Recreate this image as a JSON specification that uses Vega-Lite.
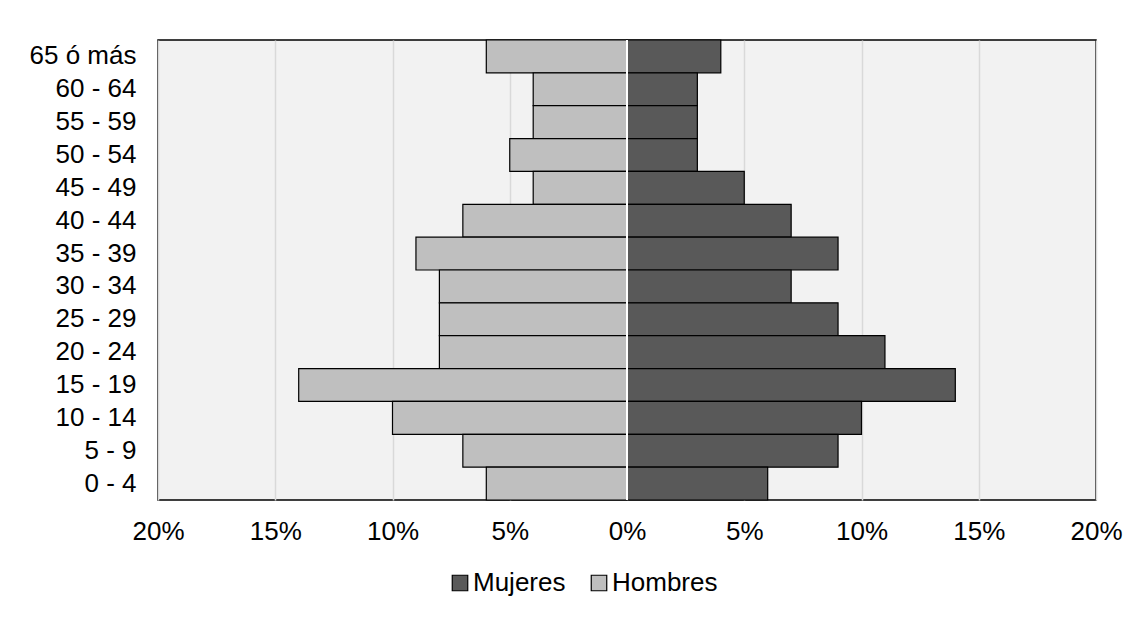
{
  "$schema": "https://vega.github.io/schema/vega-lite/v6.json",
  "width": 938,
  "height": 460,
  "autosize": {"type": "none"},
  "padding": {"left": 158, "top": 40, "right": 42, "bottom": 117},
  "background": "white",
  "config": {
    "font": "Liberation Sans",
    "view": {"fill": "#f2f2f2", "stroke": "#000000", "strokeWidth": 1.5}
  },
  "data": {
    "values": [
      {"edad": "65 ó más", "sexo": "Hombres", "valor": -6},
      {"edad": "60 - 64", "sexo": "Hombres", "valor": -4},
      {"edad": "55 - 59", "sexo": "Hombres", "valor": -4},
      {"edad": "50 - 54", "sexo": "Hombres", "valor": -5},
      {"edad": "45 - 49", "sexo": "Hombres", "valor": -4},
      {"edad": "40 - 44", "sexo": "Hombres", "valor": -7},
      {"edad": "35 - 39", "sexo": "Hombres", "valor": -9},
      {"edad": "30 - 34", "sexo": "Hombres", "valor": -8},
      {"edad": "25 - 29", "sexo": "Hombres", "valor": -8},
      {"edad": "20 - 24", "sexo": "Hombres", "valor": -8},
      {"edad": "15 - 19", "sexo": "Hombres", "valor": -14},
      {"edad": "10 - 14", "sexo": "Hombres", "valor": -10},
      {"edad": "5 - 9", "sexo": "Hombres", "valor": -7},
      {"edad": "0 - 4", "sexo": "Hombres", "valor": -6},
      {"edad": "65 ó más", "sexo": "Mujeres", "valor": 4},
      {"edad": "60 - 64", "sexo": "Mujeres", "valor": 3},
      {"edad": "55 - 59", "sexo": "Mujeres", "valor": 3},
      {"edad": "50 - 54", "sexo": "Mujeres", "valor": 3},
      {"edad": "45 - 49", "sexo": "Mujeres", "valor": 5},
      {"edad": "40 - 44", "sexo": "Mujeres", "valor": 7},
      {"edad": "35 - 39", "sexo": "Mujeres", "valor": 9},
      {"edad": "30 - 34", "sexo": "Mujeres", "valor": 7},
      {"edad": "25 - 29", "sexo": "Mujeres", "valor": 9},
      {"edad": "20 - 24", "sexo": "Mujeres", "valor": 11},
      {"edad": "15 - 19", "sexo": "Mujeres", "valor": 14},
      {"edad": "10 - 14", "sexo": "Mujeres", "valor": 10},
      {"edad": "5 - 9", "sexo": "Mujeres", "valor": 9},
      {"edad": "0 - 4", "sexo": "Mujeres", "valor": 6}
    ]
  },
  "layer": [
    {
      "mark": {"type": "bar", "stroke": "#000000", "strokeWidth": 1.2},
      "encoding": {
        "y": {
          "field": "edad",
          "type": "nominal",
          "sort": ["65 ó más", "60 - 64", "55 - 59", "50 - 54", "45 - 49", "40 - 44", "35 - 39", "30 - 34", "25 - 29", "20 - 24", "15 - 19", "10 - 14", "5 - 9", "0 - 4"],
          "scale": {"paddingInner": 0, "paddingOuter": 0},
          "axis": {"title": null, "ticks": false, "domain": false, "labelFontSize": 26, "labelPadding": 22, "labelColor": "#000000"}
        },
        "x": {
          "field": "valor",
          "type": "quantitative",
          "scale": {"domain": [-20, 20]},
          "axis": {
            "title": null,
            "values": [-20, -15, -10, -5, 0, 5, 10, 15, 20],
            "labelExpr": "abs(datum.value) + '%'",
            "ticks": false,
            "domain": false,
            "grid": true,
            "gridColor": "#d9d9d9",
            "gridWidth": 1.5,
            "labelFontSize": 26,
            "labelPadding": 18,
            "labelColor": "#000000",
            "labelFlush": false,
            "labelOverlap": false
          }
        },
        "color": {
          "field": "sexo",
          "type": "nominal",
          "scale": {"domain": ["Mujeres", "Hombres"], "range": ["#595959", "#bfbfbf"]},
          "legend": {
            "title": null,
            "orient": "none",
            "legendX": 289,
            "legendY": 530,
            "direction": "horizontal",
            "symbolType": "square",
            "symbolSize": 240,
            "symbolStrokeColor": "#000000",
            "symbolStrokeWidth": 1.2,
            "labelFontSize": 26,
            "labelColor": "#000000",
            "labelOffset": 0,
            "columnPadding": 20
          }
        }
      }
    },
    {
      "data": {"values": [{"x": 0}]},
      "mark": {"type": "rule", "color": "#ffffff", "strokeWidth": 2},
      "encoding": {"x": {"field": "x", "type": "quantitative"}}
    }
  ]
}
